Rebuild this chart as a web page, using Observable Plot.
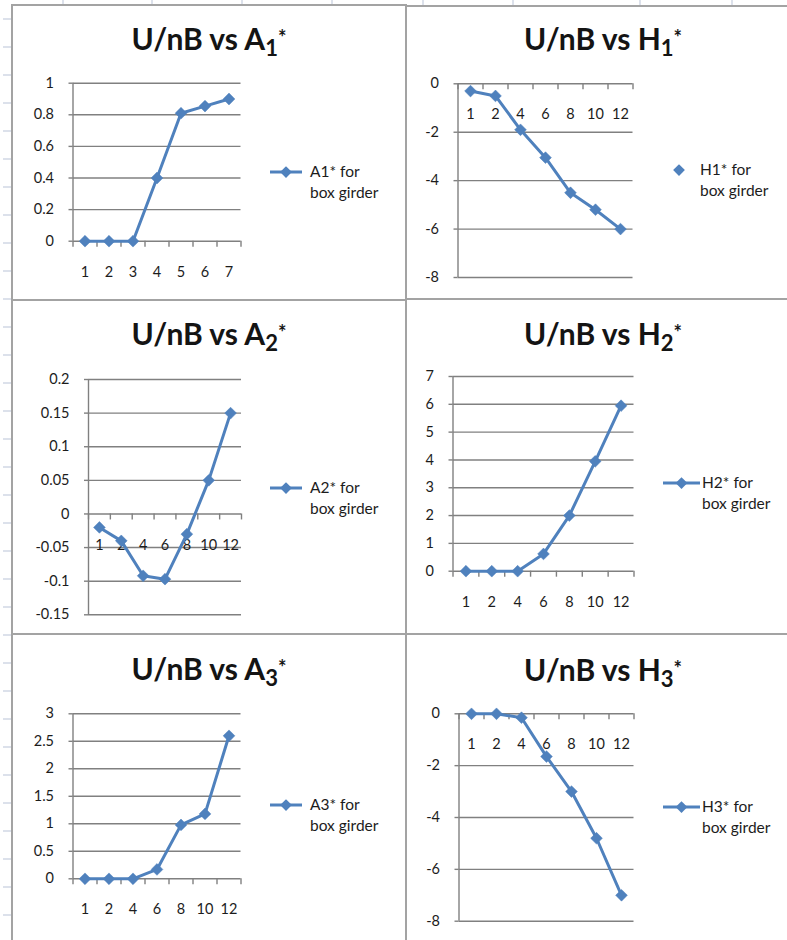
<!DOCTYPE html>
<html><head><meta charset="utf-8">
<script src="https://cdn.jsdelivr.net/npm/d3@7"></script>
<script src="https://cdn.jsdelivr.net/npm/@observablehq/plot@0.6"></script>
<style>
html,body{margin:0;padding:0;background:#fff;}
body{width:787px;height:940px;overflow:hidden;position:relative;font-family:Lato,"Open Sans",sans-serif;}
.layer{position:absolute;left:0;top:0;}
.chart{position:absolute;}
</style></head><body>
<script>
// ---- data ----
const A1_categories = ["1","2","3","4","5","6","7"];
const A1_values = [0, 0, 0, 0.4, 0.81, 0.855, 0.9];
const A1_yticks = [0, 0.2, 0.4, 0.6, 0.8, 1];
const A1_legend = ["A1* for", "box girder"];

const H1_categories = ["1","2","4","6","8","10","12"];
const H1_values = [-0.3, -0.5, -1.9, -3.05, -4.5, -5.2, -6.0];
const H1_yticks = [-8, -6, -4, -2, 0];
const H1_legend = ["H1* for", "box girder"];

const A2_categories = ["1","2","4","6","8","10","12"];
const A2_values = [-0.02, -0.04, -0.092, -0.097, -0.03, 0.05, 0.15];
const A2_yticks = [-0.15, -0.1, -0.05, 0, 0.05, 0.1, 0.15, 0.2];
const A2_legend = ["A2* for", "box girder"];

const H2_categories = ["1","2","4","6","8","10","12"];
const H2_values = [0, 0, 0, 0.62, 2.0, 3.95, 5.95];
const H2_yticks = [0, 1, 2, 3, 4, 5, 6, 7];
const H2_legend = ["H2* for", "box girder"];

const A3_categories = ["1","2","4","6","8","10","12"];
const A3_values = [0, 0, 0, 0.17, 0.98, 1.18, 2.6];
const A3_yticks = [0, 0.5, 1, 1.5, 2, 2.5, 3];
const A3_legend = ["A3* for", "box girder"];

const H3_categories = ["1","2","4","6","8","10","12"];
const H3_values = [0, 0, -0.15, -1.65, -3.0, -4.8, -7.0];
const H3_yticks = [-8, -6, -4, -2, 0];
const H3_legend = ["H3* for", "box girder"];

// ---- layout ----
const BLUE = "#4f81bd", GRID = "#808080", TEXT = "#1c1c1c", BORDER = "#a3a3a3";
const panels = [
  {main:"U/nB vs A", sub:"1", cats:A1_categories, vals:A1_values, yticks:A1_yticks, legend:A1_legend, legendLine:true,
   box:[11,4,396,297], area:{l:72.5,r:240.5,t:82.7,b:240.7}, titleBase:50, leg:{sx:270,len:32,tx:310,cy:172}},
  {main:"U/nB vs H", sub:"1", cats:H1_categories, vals:H1_values, yticks:H1_yticks, legend:H1_legend, legendLine:false,
   box:[405,5,396,295], area:{l:457.5,r:632.5,t:83.3,b:277}, titleBase:50, leg:{sx:663,len:32,tx:700,cy:170}},
  {main:"U/nB vs A", sub:"2", cats:A2_categories, vals:A2_values, yticks:A2_yticks, legend:A2_legend, legendLine:true,
   box:[11,299,396,336], area:{l:88,r:241,t:379,b:614.3}, titleBase:345, leg:{sx:270,len:32,tx:310,cy:488}},
  {main:"U/nB vs H", sub:"2", cats:H2_categories, vals:H2_values, yticks:H2_yticks, legend:H2_legend, legendLine:true,
   box:[405,298,396,337], area:{l:452.5,r:633.5,t:376,b:570.7}, titleBase:345, leg:{sx:663,len:37,tx:702,cy:483}},
  {main:"U/nB vs A", sub:"3", cats:A3_categories, vals:A3_values, yticks:A3_yticks, legend:A3_legend, legendLine:true,
   box:[11,633,396,320], area:{l:72.5,r:240.5,t:713.3,b:878.3}, titleBase:680, leg:{sx:270,len:32,tx:310,cy:805}},
  {main:"U/nB vs H", sub:"3", cats:H3_categories, vals:H3_values, yticks:H3_yticks, legend:H3_legend, legendLine:true,
   box:[405,633,396,320], area:{l:458.5,r:633.5,t:713.3,b:920.7}, titleBase:680.5, leg:{sx:663,len:37,tx:702,cy:807}}
];

// background: spreadsheet grid hints
const bg = d3.select("body").append("svg").attr("class","layer").attr("width",787).attr("height",940);
[63,152,242,332,423,513,640,732].forEach(x=>{
  bg.append("line").attr("x1",x).attr("x2",x).attr("y1",0).attr("y2",5).attr("stroke","#d0d7e5").attr("stroke-width",1.5);
});
for (let y=19; y<940; y+=28) {
  bg.append("line").attr("x1",3).attr("x2",11).attr("y1",y).attr("y2",y).attr("stroke","#d0d7e5").attr("stroke-width",1.5);
}

panels.forEach(p=>{
  const [bx,by,bw,bh] = p.box;
  const ox = bx+2, oy = by+2, W = bw-4, H = bh-4;
  const n = p.cats.length;
  const data = p.cats.map((c,i)=>({i:i+1, label:c, v:p.vals[i]}));
  const xd = [0.5, n+0.5];
  const bounds = d3.range(n+1).map(j=>xd[0]+j);
  const yd = [d3.min(p.yticks), d3.max(p.yticks)];
  const kPx = (yd[1]-yd[0])/(p.area.b-p.area.t);
  const fig = Plot.plot({
    width: W, height: H,
    marginLeft: p.area.l-ox, marginRight: ox+W-p.area.r,
    marginTop: p.area.t-oy, marginBottom: oy+H-p.area.b,
    x: {domain: xd, axis: null},
    y: {domain: yd, axis: null},
    style: {background:"transparent", fontFamily:"Lato, sans-serif", overflow:"visible"},
    marks: [
      Plot.gridY(p.yticks, {stroke:GRID, strokeOpacity:1, strokeWidth:1.4}),
      Plot.axisY(p.yticks, {label:null, tickSize:4, tickPadding:15, stroke:GRID, strokeWidth:1.4, fill:TEXT, fontSize:14.5, tickFormat:d=>String(d)}),
      Plot.ruleX([xd[0]], {stroke:GRID, strokeWidth:1.4}),
      Plot.ruleX(bounds, {x:d=>d, y1:0, y2:-6*kPx, stroke:GRID, strokeWidth:1.4}),
      Plot.text(data, {x:"i", y:()=>0, text:"label", dy:31, fontSize:14.5, fill:TEXT}),
      Plot.line(data, {x:"i", y:"v", stroke:BLUE, strokeWidth:3}),
      Plot.dot(data, {x:"i", y:"v", symbol:"diamond2", r:5.3, fill:BLUE, stroke:BLUE, strokeWidth:0.5})
    ]
  });
  fig.classList.add("chart");
  fig.style.left = ox+"px"; fig.style.top = oy+"px";
  document.body.appendChild(fig);
});

// overlay: borders, titles, legends
const ov = d3.select("body").append("svg").attr("class","layer").attr("width",787).attr("height",940)
  .style("font-family","Lato, sans-serif");
panels.forEach(p=>{
  const [bx,by,bw,bh] = p.box;
  ov.append("rect").attr("x",bx+1).attr("y",by+1).attr("width",bw-2).attr("height",bh-2)
    .attr("fill","none").attr("stroke",BORDER).attr("stroke-width",2);
  const t = ov.append("text").attr("x",bx+bw/2).attr("y",p.titleBase).attr("text-anchor","middle")
    .attr("font-size",30).attr("font-weight",700).attr("fill","#141414");
  t.append("tspan").text(p.main);
  t.append("tspan").attr("font-size",22).attr("dy",6).text(p.sub);
  t.append("tspan").attr("font-size",20).attr("dy",-11).text("*");
  const L = p.leg;
  if (p.legendLine) ov.append("line").attr("x1",L.sx).attr("x2",L.sx+L.len).attr("y1",L.cy).attr("y2",L.cy)
    .attr("stroke",BLUE).attr("stroke-width",3);
  const cx = p.legendLine ? L.sx + L.len/2 : 679;
  ov.append("path").attr("d",d3.symbol(d3.symbolDiamond2, 88)()).attr("transform",`translate(${cx},${L.cy})`).attr("fill",BLUE);
  p.legend.forEach((s,j)=>{
    ov.append("text").attr("x",L.tx).attr("y",L.cy+j*21).attr("dy","0.35em").attr("font-size",15.5).attr("fill",TEXT).text(s);
  });
});
</script>
</body></html>
